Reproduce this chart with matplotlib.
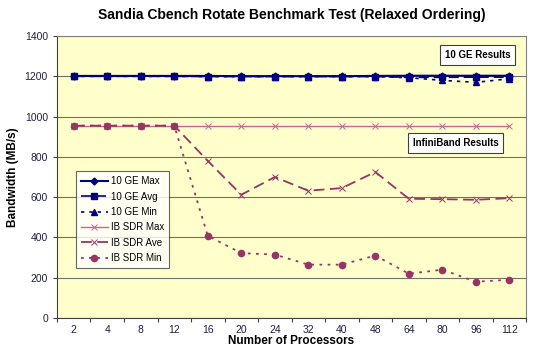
import numpy as np
import matplotlib.pyplot as plt

plt.rcParams['font.family'] = ['Liberation Sans', 'DejaVu Sans']

procs = ['2', '4', '8', '12', '16', '20', '24', '32', '40', '48', '64', '80', '96', '112']
ge_max = [1202, 1202, 1202, 1202, 1202, 1201, 1201, 1201, 1201, 1202, 1203, 1203, 1203, 1203]
ge_avg = [1200, 1200, 1200, 1200, 1199, 1199, 1199, 1199, 1199, 1199, 1195, 1195, 1196, 1196]
ge_min = [1200, 1200, 1200, 1200, 1199, 1199, 1199, 1199, 1199, 1199, 1193, 1180, 1170, 1188]
ib_max = [955, 955, 955, 955, 955, 955, 955, 955, 955, 955, 955, 955, 955, 955]
ib_ave = [955, 955, 955, 955, 780, 612, 700, 632, 645, 725, 592, 590, 587, 595]
ib_min = [955, 955, 955, 955, 408, 322, 315, 265, 265, 310, 220, 240, 180, 190]

navy = '#000080'
plum = '#993366'

fig = plt.figure(figsize=(5.5, 3.52), dpi=100)
ax = fig.add_axes([0.1036, 0.0966, 0.853, 0.801])
ax.set_facecolor('#FFFFCC')

x = np.arange(len(procs))
ax.plot(x, ge_max, color=navy, lw=1.5, marker='D', ms=3.5, label='10 GE Max', zorder=5)
ax.plot(x, ge_avg, color=navy, lw=1.2, ls=(0, (6, 3)), marker='s', ms=4.5, label='10 GE Avg', zorder=4)
ax.plot(x, ge_min, color=navy, lw=1.2, ls=(0, (2, 3)), marker='^', ms=4.5, label='10 GE Min', zorder=3)
ax.plot(x, ib_max, color='#CC6699', lw=1.0, marker='x', ms=4.5, mew=0.7, label='IB SDR Max', zorder=3)
ax.plot(x, ib_ave, color=plum, lw=1.3, ls=(0, (6, 3)), marker='x', ms=5, mew=0.7, label='IB SDR Ave', zorder=3)
ax.plot(x, ib_min, color=plum, lw=1.3, ls=(0, (1.5, 3)), marker='o', ms=4.5, label='IB SDR Min', zorder=3)

ax.set_xlim(-0.5, len(procs) - 0.5)
ax.set_ylim(0, 1400)
ax.set_yticks(range(0, 1401, 200))
ax.set_xticks(np.arange(len(procs) + 1) - 0.5, minor=False)
ax.set_xticklabels([])
ax.set_xticks(x, minor=True)
ax.set_xticklabels(procs, minor=True)
ax.tick_params(axis='x', which='minor', length=0, labelsize=7.5, pad=5, labelcolor='#202040')
ax.tick_params(axis='x', which='major', length=3, direction='out', color='#404040')
ax.tick_params(axis='y', labelsize=7.5, length=3, color='#404040', labelcolor='#202040')
ax.yaxis.grid(True, color='#707070', lw=0.8)
ax.set_axisbelow(True)
for s in ax.spines.values():
    s.set_color('#808080')
ax.spines['left'].set_color('#404040')
ax.spines['bottom'].set_color('#404040')

ax.set_title('Sandia Cbench Rotate Benchmark Test (Relaxed Ordering)',
             fontsize=10, fontweight='bold', pad=12)
ax.set_xlabel('Number of Processors', fontsize=8.5, fontweight='bold', labelpad=0)
ax.set_ylabel('Bandwidth (MB/s)', fontsize=8.5, fontweight='bold', labelpad=4)

box = dict(boxstyle='square,pad=0.5', fc='white', ec='#404040', lw=0.8)
ax.text(12.05, 1305, '10 GE Results', fontsize=7, fontweight='bold', ha='center', va='center', bbox=box)
ax.text(11.4, 868, 'InfiniBand Results', fontsize=7, fontweight='bold', ha='center', va='center', bbox=box)

leg = ax.legend(loc='upper left', bbox_to_anchor=(0.04, 0.52), fontsize=7, frameon=True,
                fancybox=False, edgecolor='#404040', handlelength=2.8, labelspacing=0.55,
                borderpad=0.5, handletextpad=0.3, borderaxespad=0)
leg.get_frame().set_linewidth(0.8)

fig.savefig('out.png', dpi=100)
